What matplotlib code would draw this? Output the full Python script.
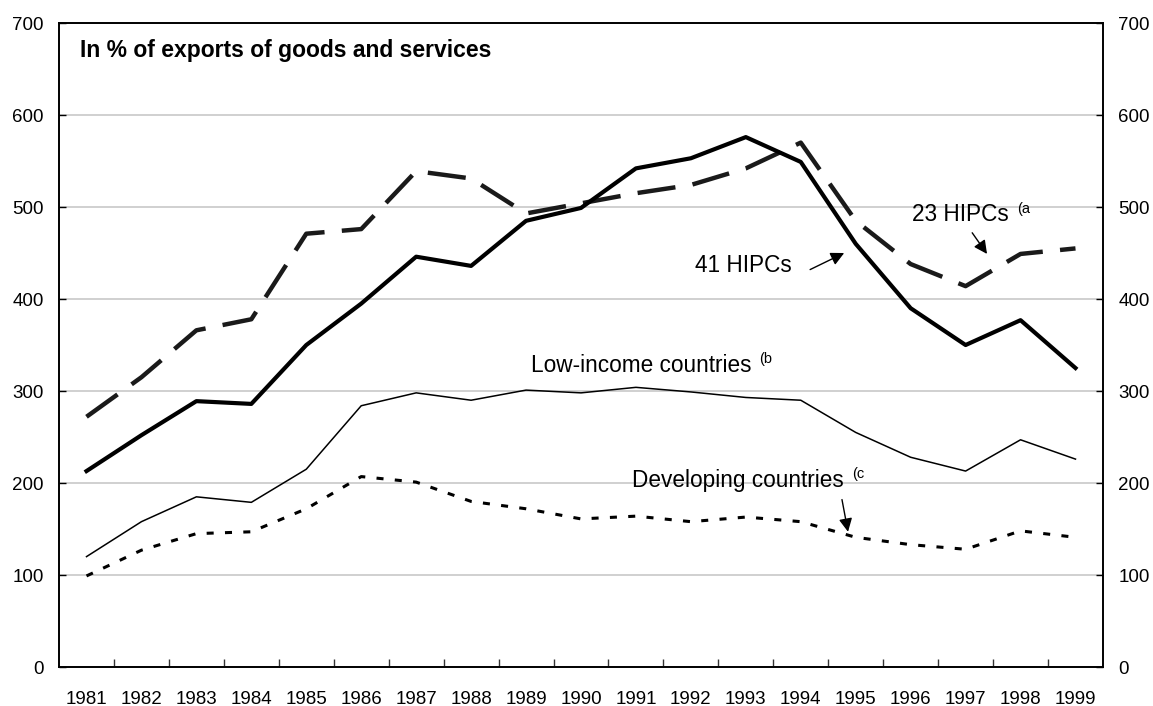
import numpy as np
import matplotlib
matplotlib.use('Agg')
import matplotlib.pyplot as plt

plt.rcParams['font.family'] = ['Liberation Sans', 'DejaVu Sans']

# --- data ---
years = [str(y) for y in range(1981, 2000)]
hipc41 = [213, 252, 289, 286, 350, 395, 446, 436, 485, 499, 542, 553, 576, 549, 460, 390, 350, 377, 325]
hipc23 = [272, 315, 366, 378, 471, 476, 539, 531, 493, 504, 515, 524, 542, 570, 485, 438, 414, 449, 455]
low_income = [120, 158, 185, 179, 215, 284, 298, 290, 301, 298, 304, 299, 293, 290, 255, 228, 213, 247, 226]
developing = [99, 127, 145, 147, 172, 207, 201, 180, 172, 161, 164, 158, 163, 158, 141, 133, 128, 148, 141]
y_ticks = [0, 100, 200, 300, 400, 500, 600, 700]

x = np.arange(len(years))

fig = plt.figure(figsize=(11.53, 7.06), dpi=100)
ax = fig.add_axes([0.0512, 0.0552, 0.9054, 0.9122])

ax.plot(x, hipc23, color='#1a1a1a', lw=3.2, dashes=(8.6, 3.9))
ax.plot(x, hipc41, color='black', lw=3.0)
ax.plot(x, low_income, color='black', lw=1.1)
ax.plot(x, developing, color='black', lw=2.2, dashes=(2.3, 3.7))

ax.set_xlim(-0.5, len(years) - 0.5)
ax.set_ylim(0, 700)

# category axis: labels centred, tick marks between categories
ax.set_xticks(x)
ax.set_xticklabels(years, fontsize=13.5)
ax.set_xticks(np.arange(0.5, len(years) - 1, 1), minor=True)
ax.tick_params(axis='x', which='major', length=0, pad=17)
ax.tick_params(axis='x', which='minor', direction='in', length=6, width=1, color='#333333')

ax.set_yticks(y_ticks)
ax.tick_params(axis='y', which='major', direction='in', length=5, width=1,
               left=True, right=True, labelleft=True, labelright=True,
               labelsize=13.5, pad=11)

ax.grid(axis='y', color='#c8c8c8', lw=1.2)
ax.set_axisbelow(True)
for s in ax.spines.values():
    s.set_linewidth(1.4)
    s.set_color('black')

ax.text(0.02, 0.9467, 'In % of exports of goods and services', transform=ax.transAxes,
        fontsize=16.5, fontweight='bold', va='baseline', ha='left')

# --- series labels ---
arrow = dict(arrowstyle='-|>', color='black', lw=1, mutation_scale=20, shrinkA=0, shrinkB=0)

ax.text(15.03, 485, '23 HIPCs', fontsize=16.3, va='baseline')
ax.text(16.94, 494, '(a', fontsize=10.5, va='baseline')
ax.annotate('', xy=(16.39, 449), xytext=(16.12, 472), arrowprops=arrow)

ax.text(11.08, 429, '41 HIPCs', fontsize=16.3, va='baseline')
ax.annotate('', xy=(13.79, 450), xytext=(13.17, 432), arrowprops=arrow)

ax.text(12.1, 321, 'Low-income countries', fontsize=16.3, va='baseline', ha='right')
ax.text(12.25, 330, '(b', fontsize=10.5, va='baseline')

ax.text(9.92, 196, 'Developing countries', fontsize=16.3, va='baseline', ha='left')
ax.text(13.94, 205, '(c', fontsize=10.5, va='baseline')
ax.annotate('', xy=(13.86, 147), xytext=(13.75, 182), arrowprops=arrow)

fig.savefig('out.png', dpi=100)
